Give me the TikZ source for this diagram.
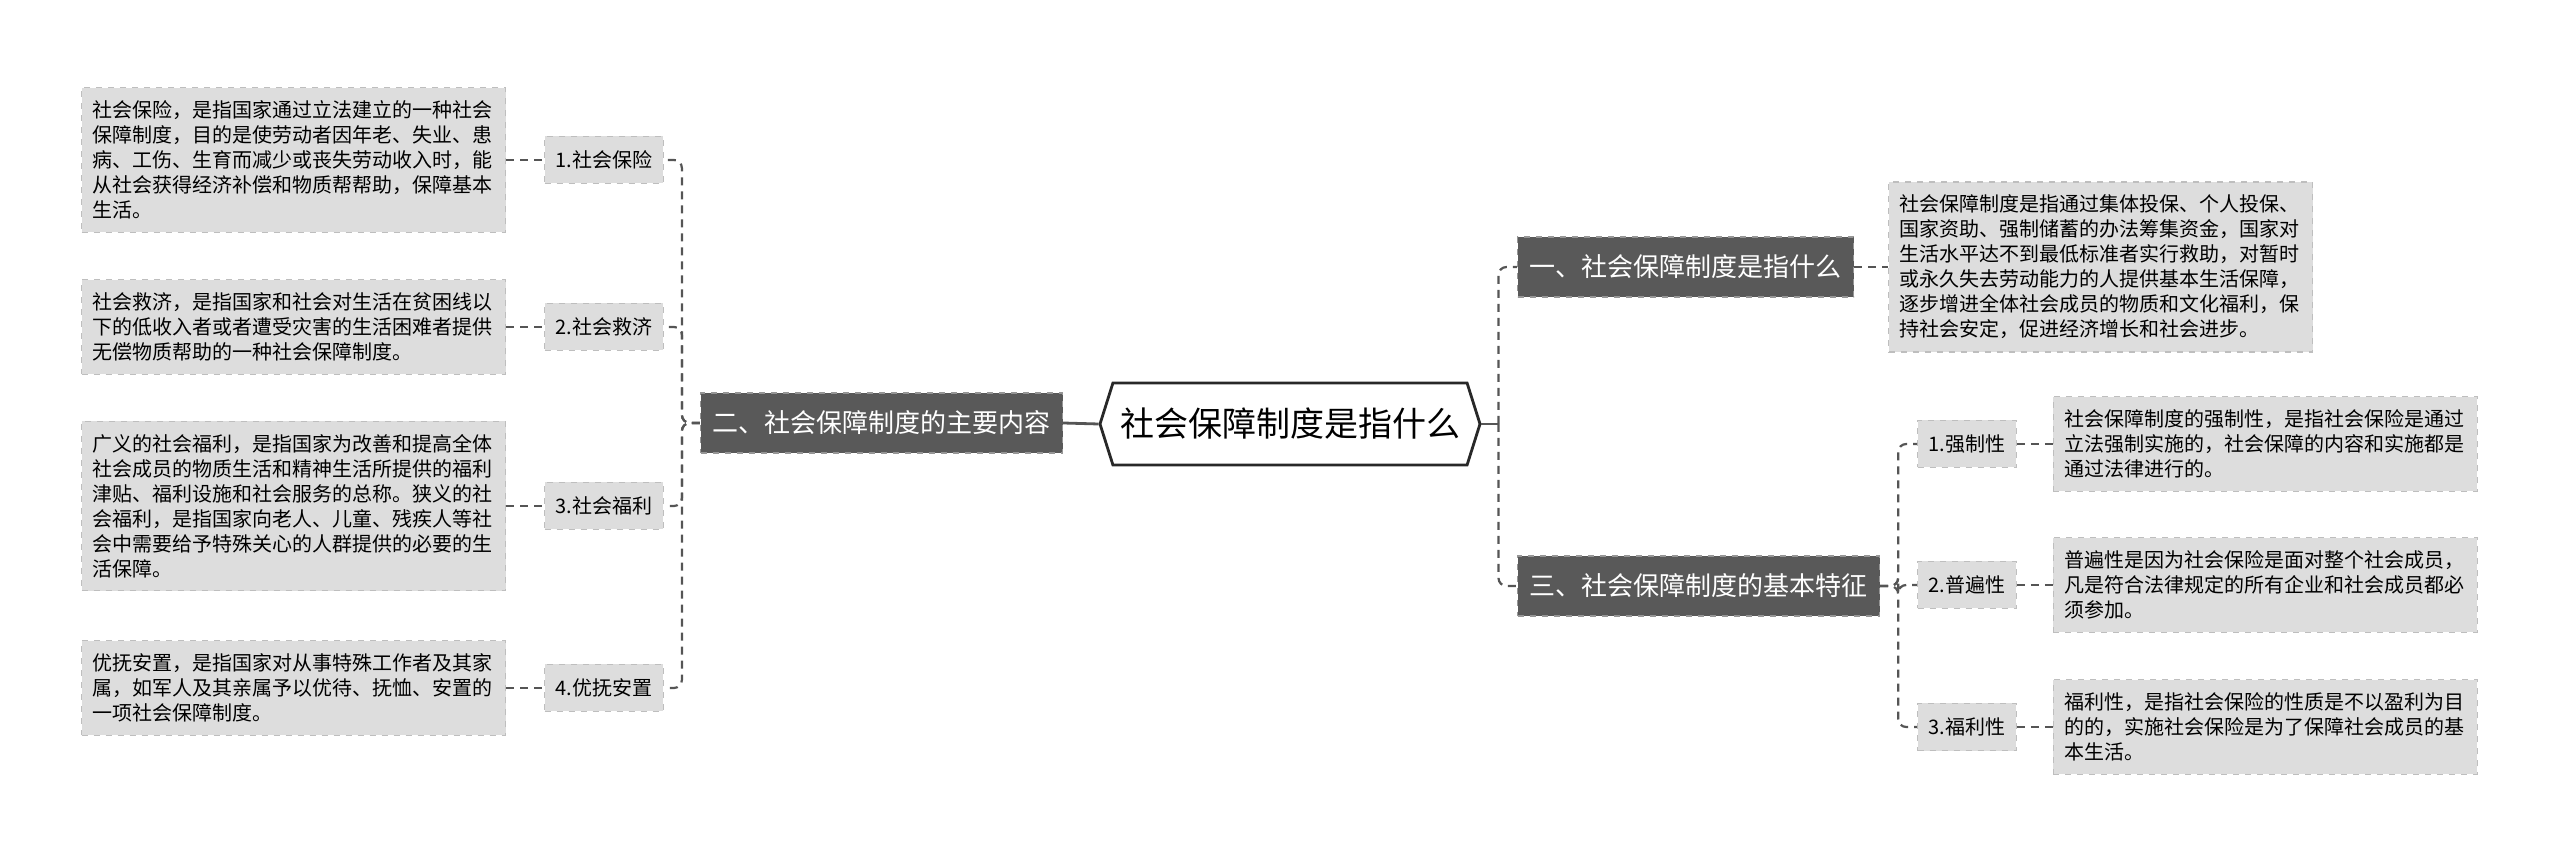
\documentclass[tikz,border=0pt]{standalone}
\usepackage{fontspec}
\setmainfont{Noto Sans CJK SC}
\usetikzlibrary{shapes.symbols, positioning}
\definecolor{descfill}{RGB}{221,221,221}
\definecolor{descborder}{RGB}{190,190,190}
\definecolor{branchfill}{RGB}{89,89,89}
\definecolor{branchborder}{RGB}{150,150,150}
\definecolor{rootborder}{RGB}{40,40,40}
\definecolor{linkcolor}{RGB}{85,85,85}

\begin{document}
\begin{tikzpicture}[x=0.5pt, y=-0.5pt,
  % Node styles
  rootbox/.style={
    signal,
    signal to=west and east,
    signal pointer angle=145,
    draw=rootborder,
    line width=1.4pt,
    fill=white,
    minimum width=190pt,
    minimum height=41pt,
    inner xsep=2pt,
    font=\fontsize{17}{20}\selectfont
  },
  branchbox/.style={
    rectangle,
    draw=branchborder,
    dashed,
    line width=0.6pt,
    fill=branchfill,
    text=white,
    minimum height=30pt,
    inner xsep=6pt,
    font=\fontsize{13}{15}\selectfont
  },
  itembox/.style={
    rectangle,
    draw=descborder,
    dashed,
    line width=0.6pt,
    fill=descfill,
    minimum height=23.5pt,
    inner xsep=5.5pt,
    font=\fontsize{10}{12}\selectfont
  },
  descbox/.style={
    rectangle,
    draw=descborder,
    dashed,
    line width=0.6pt,
    fill=descfill,
    text width=201pt,
    align=left,
    inner xsep=5.5pt,
    inner ysep=6.5pt,
    font=\fontsize{10}{12.5}\selectfont
  },
  link/.style={
    draw=linkcolor,
    line width=1.1pt,
    dash pattern=on 4pt off 3pt,
    rounded corners=4pt
  },
  rootlink/.style={
    draw=linkcolor,
    line width=1.4pt
  }
]
\useasboundingbox (0,0) rectangle (2560,860);

% ===== ROOT =====
\node[rootbox] (root) at (1290,424) {社会保障制度是指什么};

% ===== LEFT BRANCH =====
\node[branchbox] (bL) at (881.5,423) {二、社会保障制度的主要内容};

\node[itembox, anchor=east] (i1) at (664,160) {1.社会保险};
\node[descbox, left=19pt of i1] (d1) {社会保险，是指国家通过立法建立的一种社会\\保障制度，目的是使劳动者因年老、失业、患\\病、工伤、生育而减少或丧失劳动收入时，能\\从社会获得经济补偿和物质帮帮助，保障基本\\生活。};

\node[itembox, anchor=east] (i2) at (664,327) {2.社会救济};
\node[descbox, left=19pt of i2] (d2) {社会救济，是指国家和社会对生活在贫困线以\\下的低收入者或者遭受灾害的生活困难者提供\\无偿物质帮助的一种社会保障制度。};

\node[itembox, anchor=east] (i3) at (664,506) {3.社会福利};
\node[descbox, left=19pt of i3] (d3) {广义的社会福利，是指国家为改善和提高全体\\社会成员的物质生活和精神生活所提供的福利\\津贴、福利设施和社会服务的总称。狭义的社\\会福利，是指国家向老人、儿童、残疾人等社\\会中需要给予特殊关心的人群提供的必要的生\\活保障。};

\node[itembox, anchor=east] (i4) at (664,688) {4.优抚安置};
\node[descbox, left=19pt of i4] (d4) {优抚安置，是指国家对从事特殊工作者及其家\\属，如军人及其亲属予以优待、抚恤、安置的\\一项社会保障制度。};

% ===== RIGHT BRANCHES =====
\node[branchbox, anchor=west] (bR1) at (1517,267) {一、社会保障制度是指什么};
\node[descbox, right=17pt of bR1] (dR1) {社会保障制度是指通过集体投保、个人投保、\\国家资助、强制储蓄的办法筹集资金，国家对\\生活水平达不到最低标准者实行救助，对暂时\\或永久失去劳动能力的人提供基本生活保障，\\逐步增进全体社会成员的物质和文化福利，保\\持社会安定，促进经济增长和社会进步。};

\node[branchbox, anchor=west] (bR3) at (1517,586) {三、社会保障制度的基本特征};

\node[itembox, anchor=west] (r1) at (1917,444) {1.强制性};
\node[descbox, right=18pt of r1] (e1) {社会保障制度的强制性，是指社会保险是通过\\立法强制实施的，社会保障的内容和实施都是\\通过法律进行的。};

\node[itembox, anchor=west] (r2) at (1917,585) {2.普遍性};
\node[descbox, right=18pt of r2] (e2) {普遍性是因为社会保险是面对整个社会成员，\\凡是符合法律规定的所有企业和社会成员都必\\须参加。};

\node[itembox, anchor=west] (r3) at (1917,727) {3.福利性};
\node[descbox, right=18pt of r3] (e3) {福利性，是指社会保险的性质是不以盈利为目\\的的，实施社会保险是为了保障社会成员的基\\本生活。};

% ===== CONNECTORS: left side =====
\draw[rootlink] (root.west) -- (bL.east);
\coordinate[left=9pt of bL.west] (jL);
\draw[link] (bL.west) -- (jL) |- (i1.east);
\draw[link] (bL.west) -- (jL) |- (i2.east);
\draw[link] (bL.west) -- (jL) |- (i3.east);
\draw[link] (bL.west) -- (jL) |- (i4.east);
\draw[link] (d1.east) -- (i1.west);
\draw[link] (d2.east) -- (i2.west);
\draw[link] (d3.east) -- (i3.west);
\draw[link] (d4.east) -- (i4.west);

% ===== CONNECTORS: right side =====
\coordinate[right=8.5pt of root.east] (jR);
\draw[rootlink] (root.east) -- (jR);
\draw[link] (jR) |- (bR1.west);
\draw[link] (jR) |- (bR3.west);
\draw[link] (bR1.east) -- (dR1.west);
\coordinate[right=9pt of bR3.east] (jR3);
\draw[link] (bR3.east) -- (jR3) |- (r1.west);
\draw[link] (bR3.east) -- (jR3) |- (r2.west);
\draw[link] (bR3.east) -- (jR3) |- (r3.west);
\draw[link] (r1.east) -- (e1.west);
\draw[link] (r2.east) -- (e2.west);
\draw[link] (r3.east) -- (e3.west);

\end{tikzpicture}
\end{document}
